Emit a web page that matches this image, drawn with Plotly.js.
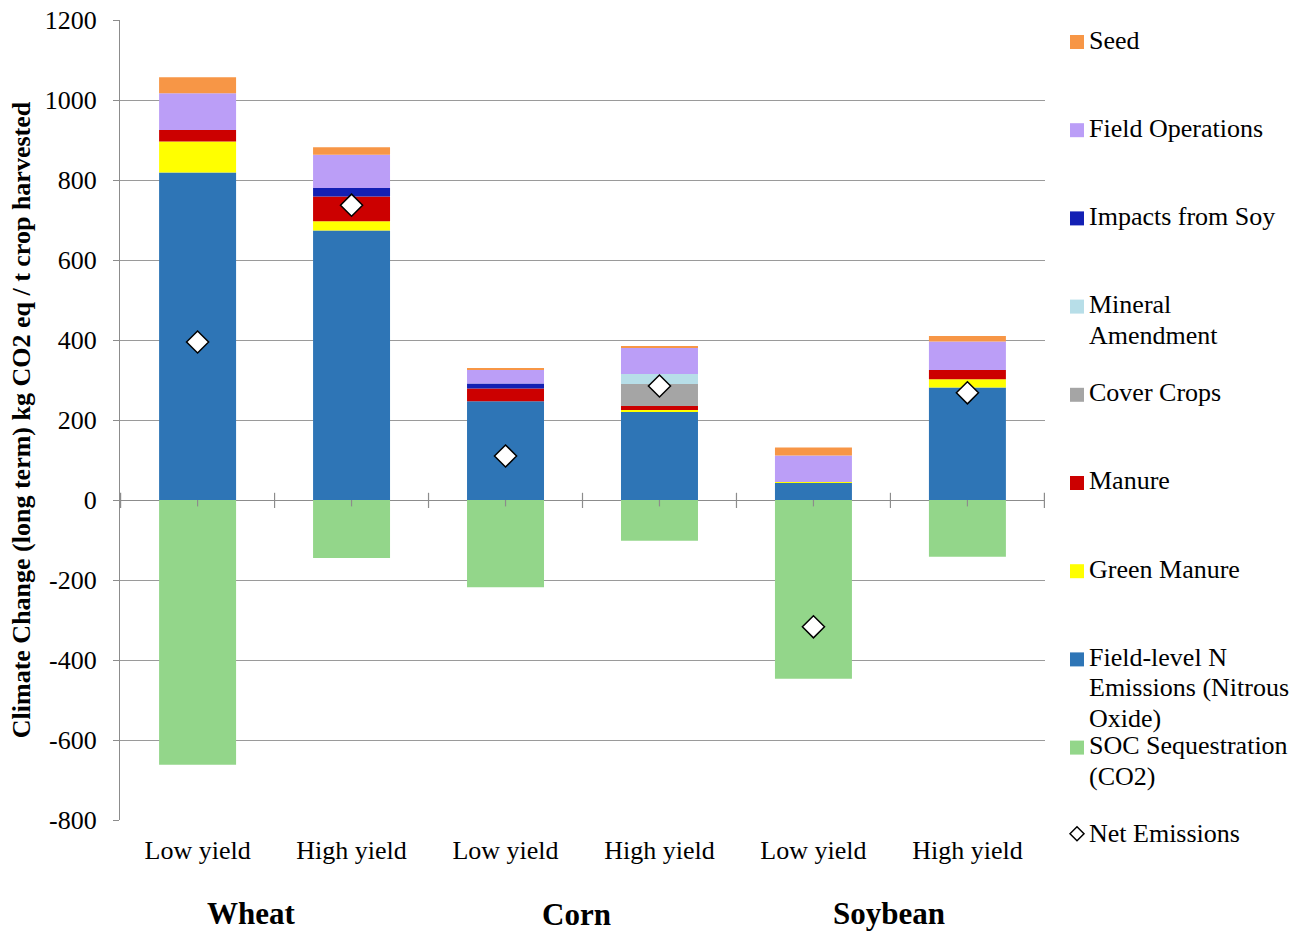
<!DOCTYPE html>
<html>
<head>
<meta charset="utf-8">
<script src="https://cdn.plot.ly/plotly-3.0.1.min.js"></script>
<style>
  html, body { margin: 0; padding: 0; background: #ffffff; }
  #chart { width: 1312px; height: 932px; }
</style>
</head>
<body>
<div id="chart"></div>
<script>
// Scenarios along the horizontal axis (crop / yield level)
const categories = ['Wheat Low', 'Wheat High', 'Corn Low', 'Corn High', 'Soybean Low', 'Soybean High'];
const tickLabels = ['Low yield', 'High yield', 'Low yield', 'High yield', 'Low yield', 'High yield'];
const cropGroups = ['Wheat', 'Corn', 'Soybean'];

// Vertical axis ticks (plain hyphen for negatives)
const yTickValues = [-800, -600, -400, -200, 0, 200, 400, 600, 800, 1000, 1200];
const yTickLabels = ['-800', '-600', '-400', '-200', '0', '200', '400', '600', '800', '1000', '1200'];

// Contributions, kg CO2 eq / t crop harvested
const socSequestration = [-662, -145, -218, -102, -447, -142];
const fieldLevelN      = [819, 674, 247, 221, 43, 281];
const greenManure      = [77, 23, 0, 4, 2, 21];
const manure           = [29, 62, 32, 10, 0, 23];
const coverCrops       = [0, 0, 0, 55, 0, 0];
const mineralAmendment = [0, 0, 0, 25, 0, 0];
const impactsFromSoy   = [0, 21, 12, 0, 0, 0];
const fieldOperations  = [92, 83, 36, 67, 66, 71];
const seed             = [40, 19, 1, 3, 20, 14];
const netEmissions     = [395, 737, 110, 285, -317, 268];

// Series names (legend lines) and colours, top of legend first
const seriesNames = [
  ['Seed'],
  ['Field Operations'],
  ['Impacts from Soy'],
  ['Mineral', 'Amendment'],
  ['Cover Crops'],
  ['Manure'],
  ['Green Manure'],
  ['Field-level N', 'Emissions (Nitrous', 'Oxide)'],
  ['SOC Sequestration', '(CO2)'],
  ['Net Emissions']
];
const seriesColors = ['#F79646', '#BB9EF7', '#1320B4', '#B7DEE8', '#A5A5A5',
                      '#CC0000', '#FFFF00', '#2E75B6', '#93D68A', null];
const seriesValues = [seed, fieldOperations, impactsFromSoy, mineralAmendment, coverCrops,
                      manure, greenManure, fieldLevelN, socSequestration];

const serif = '"Liberation Serif", "Times New Roman", serif';

// Plot-area geometry (pixels) used to place the side legend
const W = 1312, H = 932;
const M = { l: 120, r: 267, t: 20, b: 112 };
const plotW = W - M.l - M.r, plotH = H - M.t - M.b;
const px2x = px => (px - M.l) / plotW;
const px2y = py => (H - M.b - py) / plotH;

// Stacked bars: lowest segment first
const traces = [];
for (let i = seriesValues.length - 1; i >= 0; i--) {
  traces.push({
    type: 'bar', name: seriesNames[i].join(' '), x: categories, y: seriesValues[i],
    marker: { color: seriesColors[i], line: { width: 0 } },
    hoverinfo: 'y+name', showlegend: false
  });
}
traces.push({
  type: 'scatter', mode: 'markers', name: 'Net Emissions',
  x: categories, y: netEmissions, showlegend: false,
  marker: { symbol: 'diamond', size: 17, color: '#ffffff', line: { color: '#000000', width: 1.5 } }
});

const shapes = [];
const annotations = [];

// Tick marks on the zero line: between scenarios and under each bar
for (let i = 0; i <= categories.length; i++) {
  shapes.push({ type: 'line', xref: 'x', yref: 'y', x0: i - 0.5, x1: i - 0.5, y0: 18, y1: -20,
                line: { color: '#8c8c8c', width: 1.2 } });
}
for (let i = 0; i < categories.length; i++) {
  shapes.push({ type: 'line', xref: 'x', yref: 'y', x0: i, x1: i, y0: 0, y1: -16,
                line: { color: '#8c8c8c', width: 1.2 } });
}

// Crop names under the yield labels
const groupPos = [0.35, 2.46, 4.49];
const groupY = [913, 915, 913];
cropGroups.forEach((g, i) => annotations.push({
  text: '<b>' + g + '</b>', xref: 'x', yref: 'paper', x: groupPos[i], y: px2y(groupY[i]),
  xanchor: 'center', yanchor: 'middle', showarrow: false,
  font: { family: serif, size: 31, color: '#000000' }
}));

// Side legend: evenly spaced entries, one text line per annotation
const legendTop = 40, legendStep = 88.2, lineStep = 30.5;
const keyX = 1070, textX = 1087, keySize = 14;
seriesNames.forEach((lines, i) => {
  const yc = legendTop + legendStep * i;
  lines.forEach((ln, j) => annotations.push({
    text: ln, xref: 'paper', yref: 'paper', x: px2x(textX), y: px2y(yc + lineStep * j),
    xanchor: 'left', yanchor: 'middle', showarrow: false,
    font: { family: serif, size: 26, color: '#000000' }
  }));
  if (seriesColors[i]) {
    shapes.push({
      type: 'rect', xref: 'paper', yref: 'paper',
      x0: px2x(keyX), x1: px2x(keyX + keySize),
      y0: px2y(yc + 2 - keySize / 2), y1: px2y(yc + 2 + keySize / 2),
      fillcolor: seriesColors[i], line: { width: 0 }
    });
  } else {
    shapes.push({
      type: 'path', xref: 'paper', yref: 'paper',
      xsizemode: 'pixel', ysizemode: 'pixel',
      xanchor: px2x(keyX + 7), yanchor: px2y(yc),
      path: 'M -7 0 L 0 7 L 7 0 L 0 -7 Z',
      fillcolor: '#ffffff', line: { color: '#000000', width: 1.5 }
    });
  }
});

const layout = {
  width: W, height: H,
  margin: M,
  paper_bgcolor: '#ffffff', plot_bgcolor: '#ffffff',
  barmode: 'relative', bargap: 0.5,
  showlegend: false,
  xaxis: {
    type: 'category', tickvals: categories, ticktext: tickLabels,
    showgrid: false, showline: false, ticks: '', zeroline: false,
    ticklabelstandoff: 12,
    tickfont: { family: serif, size: 26, color: '#000000' }
  },
  yaxis: {
    range: [-800, 1200], tickvals: yTickValues, ticktext: yTickLabels,
    showgrid: true, gridcolor: '#9a9a9a', gridwidth: 1.2,
    zeroline: true, zerolinecolor: '#8c8c8c', zerolinewidth: 1.2,
    showline: true, linecolor: '#8c8c8c', linewidth: 1.2,
    ticks: 'outside', ticklen: 6, tickcolor: '#8c8c8c',
    ticklabelstandoff: 11,
    tickfont: { family: serif, size: 26, color: '#000000' },
    title: {
      text: '<b>Climate Change (long term) kg CO2 eq / t crop harvested</b>',
      font: { family: serif, size: 26, color: '#000000' },
      standoff: 6
    }
  },
  shapes: shapes,
  annotations: annotations
};

Plotly.newPlot('chart', traces, layout, { displayModeBar: false, responsive: false });
</script>
</body>
</html>
